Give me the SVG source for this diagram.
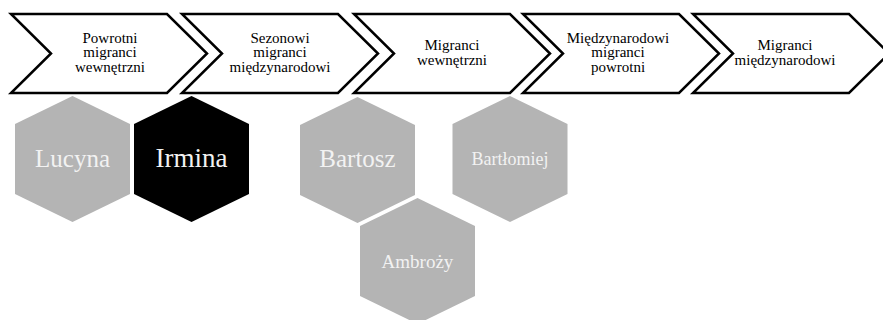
<svg xmlns="http://www.w3.org/2000/svg" width="883" height="320" viewBox="0 0 883 320">
<style>
.chev{fill:#fff;stroke:#000;stroke-width:2.5;stroke-linejoin:miter}
.ct{font-size:15px;fill:#000;text-anchor:middle}
.hex{fill:#b4b4b4}
.hexd{fill:#000}
.ht{fill:#f2f2f2;text-anchor:middle}
text{font-family:'Liberation Serif','Times New Roman','DejaVu Serif',serif}
</style>
<rect width="883" height="320" fill="#fff"/>
<g id="connectors"></g>
<g id="chevron1">
<path class="chev" d="M11,14 H167 L207,53.5 L167,93 H11 L51,53.5 Z"/>
<text class="ct" x="110" y="42.5" font-family="Liberation Serif, serif">Powrotni</text>
<text class="ct" x="110" y="57" font-family="Liberation Serif, serif">migranci</text>
<text class="ct" x="110" y="71.5" font-family="Liberation Serif, serif">wewnętrzni</text>
</g>
<g id="chevron2">
<path class="chev" d="M182,14 H338 L378,53.5 L338,93 H182 L222,53.5 Z"/>
<text class="ct" x="280" y="42.5">Sezonowi</text>
<text class="ct" x="280" y="57">migranci</text>
<text class="ct" x="280" y="71.5">międzynarodowi</text>
</g>
<g id="chevron3">
<path class="chev" d="M354,14 H510 L550,53.5 L510,93 H354 L394,53.5 Z"/>
<text class="ct" x="452" y="50">Migranci</text>
<text class="ct" x="452" y="64.5">wewnętrzni</text>
</g>
<g id="chevron4">
<path class="chev" d="M523,14 H679 L719,53.5 L679,93 H523 L563,53.5 Z"/>
<text class="ct" x="618" y="42.5">Międzynarodowi</text>
<text class="ct" x="618" y="57">migranci</text>
<text class="ct" x="618" y="71.5">powrotni</text>
</g>
<g id="chevron5">
<path class="chev" d="M693,14 H849 L889,53.5 L849,93 H693 L733,53.5 Z"/>
<text class="ct" x="785" y="50">Migranci</text>
<text class="ct" x="785" y="64.5">międzynarodowi</text>
</g>
<g id="lucyna">
<polygon class="hex" points="72.5,96 130,124 130,194 72.5,222 15,194 15,124"/>
<text class="ht" x="72.5" y="167" font-size="25">Lucyna</text>
</g>
<g id="irmina">
<polygon class="hexd" points="191.5,96 249,124 249,194 191.5,222 134,194 134,124"/>
<text class="ht" x="191.5" y="167" font-size="27">Irmina</text>
</g>
<g id="bartosz">
<polygon class="hex" points="357.5,97 415,125 415,195 357.5,223 300,195 300,125"/>
<text class="ht" x="357.5" y="167" font-size="25">Bartosz</text>
</g>
<g id="bartlomiej">
<polygon class="hex" points="510,96 567.5,124 567.5,194 510,222 452.5,194 452.5,124"/>
<text class="ht" x="510" y="165" font-size="18">Bartłomiej</text>
</g>
<g id="ambrozy">
<polygon class="hex" points="417.5,198 475,226 475,296 417.5,324 360,296 360,226"/>
<text class="ht" x="417.5" y="268" font-size="19">Ambroży</text>
</g>
</svg>
